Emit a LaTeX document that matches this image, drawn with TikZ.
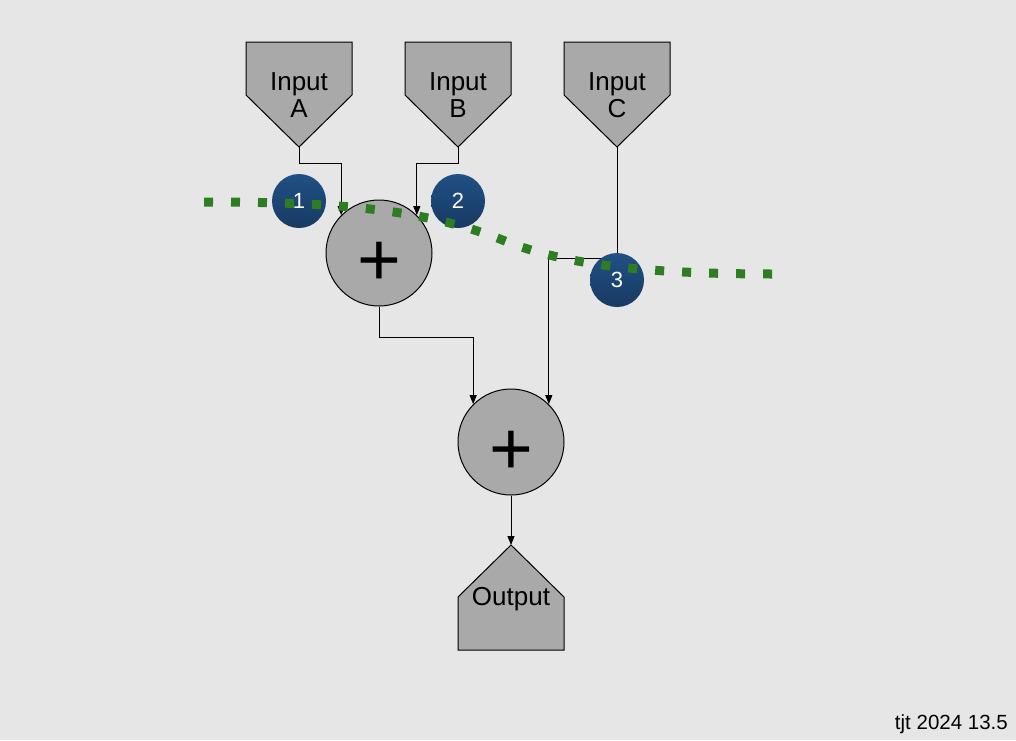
\documentclass[tikz,border=0pt]{standalone}
\usepackage{fontspec}
\setmainfont{Liberation Sans}
\usetikzlibrary{arrows.meta}
\definecolor{bgc}{RGB}{230,230,230}
\definecolor{shapefill}{RGB}{169,169,169}
\definecolor{badgetop}{RGB}{32,80,134}
\definecolor{badgebot}{RGB}{24,58,98}
\definecolor{dotgreen}{RGB}{46,125,35}
\tikzset{
  shapebox/.style={draw=black, fill=shapefill, line width=1pt, line join=miter},
  lbl/.style={align=center, font=\fontsize{26}{27}\selectfont, inner sep=0pt},
  sumnode/.style={circle, draw=black, fill=shapefill, line width=1pt, minimum size=106pt, inner sep=0pt, text height=64pt, text depth=0pt, font=\fontsize{75}{75}\selectfont},
  wire/.style={draw=black, line width=1pt, -{Triangle[length=9pt,width=7pt]}},
  badge/.style={circle, minimum size=54pt, inner sep=0pt, top color=badgetop, bottom color=badgebot, text=white, font=\fontsize{22}{22}\selectfont},
  cutline/.style={draw=dotgreen, line width=9pt, dash pattern=on 9pt off 18pt},
}
\begin{document}
\begin{tikzpicture}[x=1pt,y=-1pt]
\fill[bgc] (0,0) rectangle (1016,740);
\useasboundingbox (0,0) rectangle (1016,740);

% input shapes
\draw[shapebox] (246,42) -- (352,42) -- (352,95) -- (299,147) -- (246,95) -- cycle;
\coordinate (tA) at (299,147);
\node[lbl] (lA) at (299,95.5) {Input\\A};

\draw[shapebox] (405,42) -- (511,42) -- (511,95) -- (458,147) -- (405,95) -- cycle;
\coordinate (tB) at (458,147);
\node[lbl] (lB) at (458,95.5) {Input\\B};

\draw[shapebox] (564,42) -- (670,42) -- (670,95) -- (617,147) -- (564,95) -- cycle;
\coordinate (tC) at (617,147);
\node[lbl] (lC) at (617,95.5) {Input\\C};

% output shape
\draw[shapebox] (511,545) -- (564,597) -- (564,650) -- (458,650) -- (458,597) -- cycle;
\coordinate (tO) at (511,545);
\node[lbl] (lO) at (511,599) {Output};

% summing nodes
\node[sumnode] (s1) at (379,253) {+};
\node[sumnode] (s2) at (511,442) {+};

% wires
\draw[wire] (tA) -- ++(0,16) -| (s1.north west);
\draw[wire] (tB) -- ++(0,16) -| (s1.north east);
\draw[wire] (tC) -- ++(0,111) -| (s2.north east);
\draw[wire] (s1.south) -- ++(0,31) -| (s2.north west);
\draw[wire] (s2.south) -- (tO);

% badges
\node[badge] (b1) at (299,201) {1};
\node[badge] (b2) at (458,201) {2};
\node[badge] (b3) at (617,280) {3};

% dotted cut line
\coordinate (cs) at (204,202);
\coordinate (cm) at (500,239);
\coordinate (ce) at (777,274);
\draw[cutline] (cs) .. controls (330,202) and (420,208) .. (cm) .. controls (560,264) and (640,274) .. (ce);

% footer
\node[anchor=base east, inner sep=0pt, font=\fontsize{20.5}{20.5}\selectfont] (ft) at (1008,729) {tjt 2024 13.5};
\end{tikzpicture}
\end{document}
